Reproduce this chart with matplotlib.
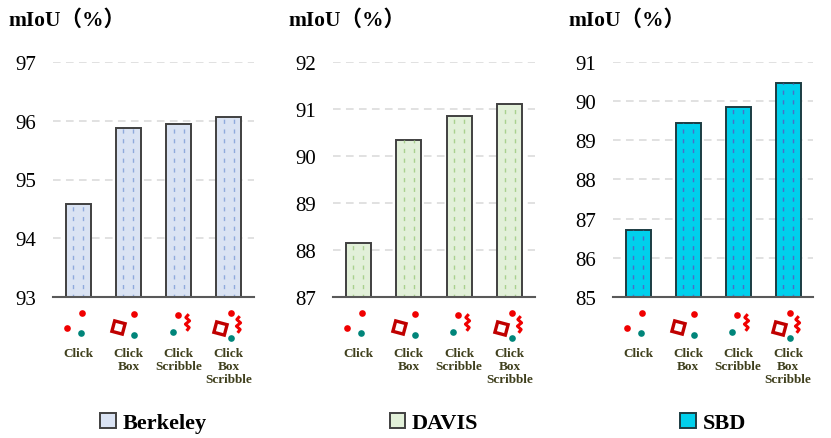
import numpy as np
import matplotlib
matplotlib.use("Agg")
import matplotlib.pyplot as plt
from matplotlib.patches import Patch
from matplotlib.path import Path
from matplotlib.transforms import offset_copy

plt.rcParams['font.family'] = ['Liberation Serif', 'DejaVu Serif']

# data
categories = ['Click', 'Click\nBox', 'Click\nScribble', 'Click\nBox\nScribble']
datasets = ['Berkeley', 'DAVIS', 'SBD']
berkeley = [94.58, 95.88, 95.95, 96.07]
davis = [88.14, 90.35, 90.86, 91.10]
sbd = [86.70, 89.45, 89.86, 90.46]
ylims = [(93, 97), (87, 92), (85, 91)]
yticks = [[93, 94, 95, 96, 97], [87, 88, 89, 90, 91, 92], [85, 86, 87, 88, 89, 90, 91]]

fills = ['#dae3f3', '#e2f0d9', '#00d0ec']
dash_cols = ['#8faadc', '#a9d18e', '#4a6fc8']
edges = ['#404040', '#404040', '#1c3c42']

W, H = 831, 439
fig = plt.figure(figsize=(W / 100, H / 100), dpi=100)

ax_x = [(53, 254), (333, 535), (613, 813)]
ax_top, ax_bot = 63, 298

# scribble marker
scribble = Path([(0.15, 1.0), (-0.2, 0.6), (0.25, 0.2), (-0.25, -0.2),
                 (0.2, -0.6), (-0.1, -1.0)])
RED, TEAL, DRED = '#f00000', '#00857a', '#c00000'
# icons: (kind, dx px, dy px from baseline)
icons = [
    [('dot', 4, -16), ('dot', -11, -31), ('teal', 3, -36)],
    [('box', -10, -30), ('dot', 6, -17), ('teal', 6, -38)],
    [('dot', -1, -18), ('teal', -6, -35), ('scr', 8, -25)],
    [('box', -9, -31), ('dot', 2, -16), ('scr', 9, -27), ('teal', 2, -41)],
]

values = [berkeley, davis, sbd]
for k in range(3):
    x0, x1 = ax_x[k]
    ax = fig.add_axes([x0 / W, 1 - ax_bot / H, (x1 - x0) / W, (ax_bot - ax_top) / H])
    x = np.arange(len(categories))
    bars = ax.bar(x, values[k], width=0.5, color=fills[k], edgecolor=edges[k],
                  linewidth=1.4, zorder=3)
    for b in bars:
        for f in (0.3, 0.7):
            xx = b.get_x() + b.get_width() * f
            ln = ax.vlines(xx, ylims[k][0], b.get_height(), colors=dash_cols[k],
                           linewidth=1.0, linestyles=(1, (3, 4)), zorder=4)
            ln.set_clip_path(b)
    ax.set_xlim(-0.5, len(categories) - 0.5)
    ax.set_ylim(*ylims[k])
    ax.set_yticks(yticks[k])
    ax.set_xticks([])
    ax.tick_params(axis='y', length=0, pad=12, labelsize=15)
    ax.yaxis.grid(True, color='#d9d9d9', linewidth=1.1, linestyle=(0, (5, 3.5)), zorder=0)
    for s in ('left', 'top', 'right'):
        ax.spines[s].set_visible(False)
    ax.spines['bottom'].set_color('#595959')
    ax.spines['bottom'].set_linewidth(1.5)
    ax.spines['bottom'].set_zorder(5)

    ax.annotate('mIoU（%）', xy=(0, 1), xycoords='axes fraction',
                xytext=(-45, 42), textcoords='offset pixels', ha='left', va='center',
                fontsize=15.5, fontweight='bold',
                family=['Liberation Serif', 'Noto Sans CJK SC'])

    base = ax.get_xaxis_transform()
    for i, lab in enumerate(categories):
        for kind, dx, dy in icons[i]:
            tr = offset_copy(base, fig=fig, x=dx, y=dy, units='dots')
            if kind == 'dot':
                ax.plot(i, 0, 'o', ms=4.8, color=RED, mew=0, transform=tr, clip_on=False)
            elif kind == 'teal':
                ax.plot(i, 0, 'o', ms=4.8, color=TEAL, mew=0, transform=tr, clip_on=False)
            elif kind == 'box':
                ax.plot(i, 0, marker=(4, 0, 30), ms=11, mfc='none', mec=DRED, mew=2.4,
                        transform=tr, clip_on=False, linestyle='none')
            else:
                ax.plot(i, 0, marker=scribble, ms=12, mfc='none', mec=RED, mew=2.2,
                        transform=tr, clip_on=False, linestyle='none')
        ax.annotate(lab, xy=(i, 0), xycoords=base, xytext=(0, -50),
                    textcoords='offset pixels', ha='center', va='top',
                    fontsize=9.5, fontweight='bold', color='#3f3f1c', linespacing=1.1)

    handle = Patch(facecolor=fills[k], edgecolor=edges[k], linewidth=1.4)
    ax.legend([handle], [datasets[k]], loc='center',
              bbox_to_anchor=(0.5, -(424 - ax_bot) / (ax_bot - ax_top)),
              frameon=False, handlelength=0.7, handleheight=0.7, handletextpad=0.3,
              prop={'size': 16, 'weight': 'bold'})

fig.savefig('out.png', dpi=100)
